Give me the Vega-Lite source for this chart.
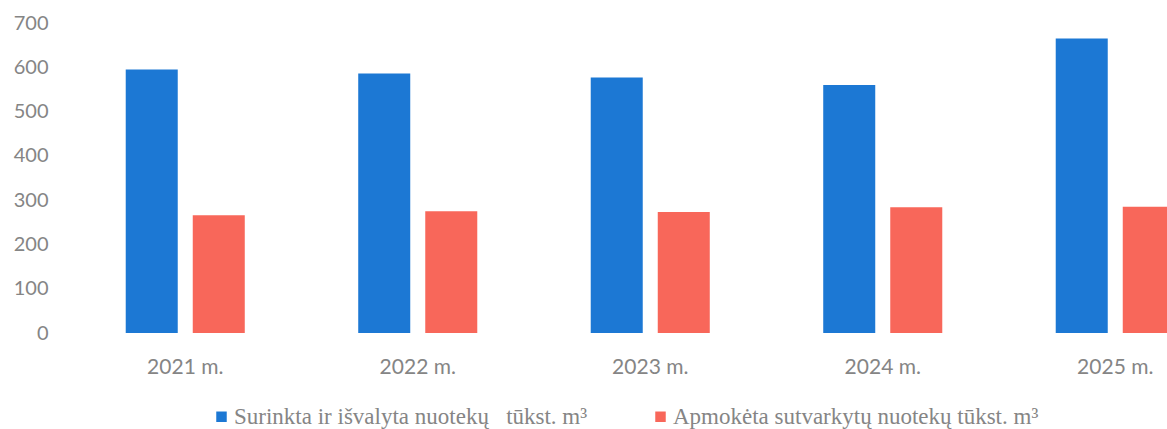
{
  "$schema": "https://vega.github.io/schema/vega-lite/v6.json",
  "autosize": "none",
  "padding": {"left": 69, "top": 23, "right": 0, "bottom": 96},
  "width": 1162.5,
  "height": 310,
  "background": "white",
  "config": {"view": {"stroke": null}},
  "data": {"values": [
    {"metai": "2021 m.", "serija": "Surinkta ir išvalyta nuotekų\u00a0\u00a0 tūkst. m³", "reiksme": 595},
    {"metai": "2021 m.", "serija": "Apmokėta sutvarkytų nuotekų tūkst. m³", "reiksme": 266},
    {"metai": "2022 m.", "serija": "Surinkta ir išvalyta nuotekų\u00a0\u00a0 tūkst. m³", "reiksme": 586},
    {"metai": "2022 m.", "serija": "Apmokėta sutvarkytų nuotekų tūkst. m³", "reiksme": 275},
    {"metai": "2023 m.", "serija": "Surinkta ir išvalyta nuotekų\u00a0\u00a0 tūkst. m³", "reiksme": 577},
    {"metai": "2023 m.", "serija": "Apmokėta sutvarkytų nuotekų tūkst. m³", "reiksme": 273},
    {"metai": "2024 m.", "serija": "Surinkta ir išvalyta nuotekų\u00a0\u00a0 tūkst. m³", "reiksme": 560},
    {"metai": "2024 m.", "serija": "Apmokėta sutvarkytų nuotekų tūkst. m³", "reiksme": 284},
    {"metai": "2025 m.", "serija": "Surinkta ir išvalyta nuotekų\u00a0\u00a0 tūkst. m³", "reiksme": 665},
    {"metai": "2025 m.", "serija": "Apmokėta sutvarkytų nuotekų tūkst. m³", "reiksme": 285}
  ]},
  "mark": {"type": "bar"},
  "encoding": {
    "x": {
      "field": "metai", "type": "nominal", "title": null,
      "scale": {"paddingInner": 0.488, "paddingOuter": 0.244},
      "axis": {"labelAngle": 0, "domain": false, "ticks": false, "labelPadding": 23, "labelFont": "Lato", "labelFontSize": 21, "labelColor": "#858585"}
    },
    "xOffset": {
      "field": "serija", "type": "nominal",
      "scale": {"paddingInner": 0.224, "paddingOuter": 0},
      "sort": ["Surinkta ir išvalyta nuotekų\u00a0\u00a0 tūkst. m³", "Apmokėta sutvarkytų nuotekų tūkst. m³"]
    },
    "y": {
      "field": "reiksme", "type": "quantitative", "title": null,
      "scale": {"domain": [0, 700]},
      "axis": {"values": [0, 100, 200, 300, 400, 500, 600, 700], "grid": false, "domain": false, "ticks": false, "labelPadding": 21, "labelFont": "Lato", "labelFontSize": 20, "labelColor": "#858585"}
    },
    "color": {
      "field": "serija", "type": "nominal",
      "scale": {"domain": ["Surinkta ir išvalyta nuotekų\u00a0\u00a0 tūkst. m³", "Apmokėta sutvarkytų nuotekų tūkst. m³"], "range": ["#1c78d4", "#f8675a"]},
      "legend": {
        "title": null, "orient": "none", "direction": "horizontal",
        "legendX": 141, "legendY": 382,
        "symbolType": "square", "symbolSize": 110, "symbolStrokeWidth": 0, "symbolOpacity": 1,
        "labelFont": "Liberation Serif", "labelFontSize": 23, "labelColor": "#858585", "labelOffset": 1,
        "columnPadding": 61, "labelLimit": 600
      }
    }
  }
}
